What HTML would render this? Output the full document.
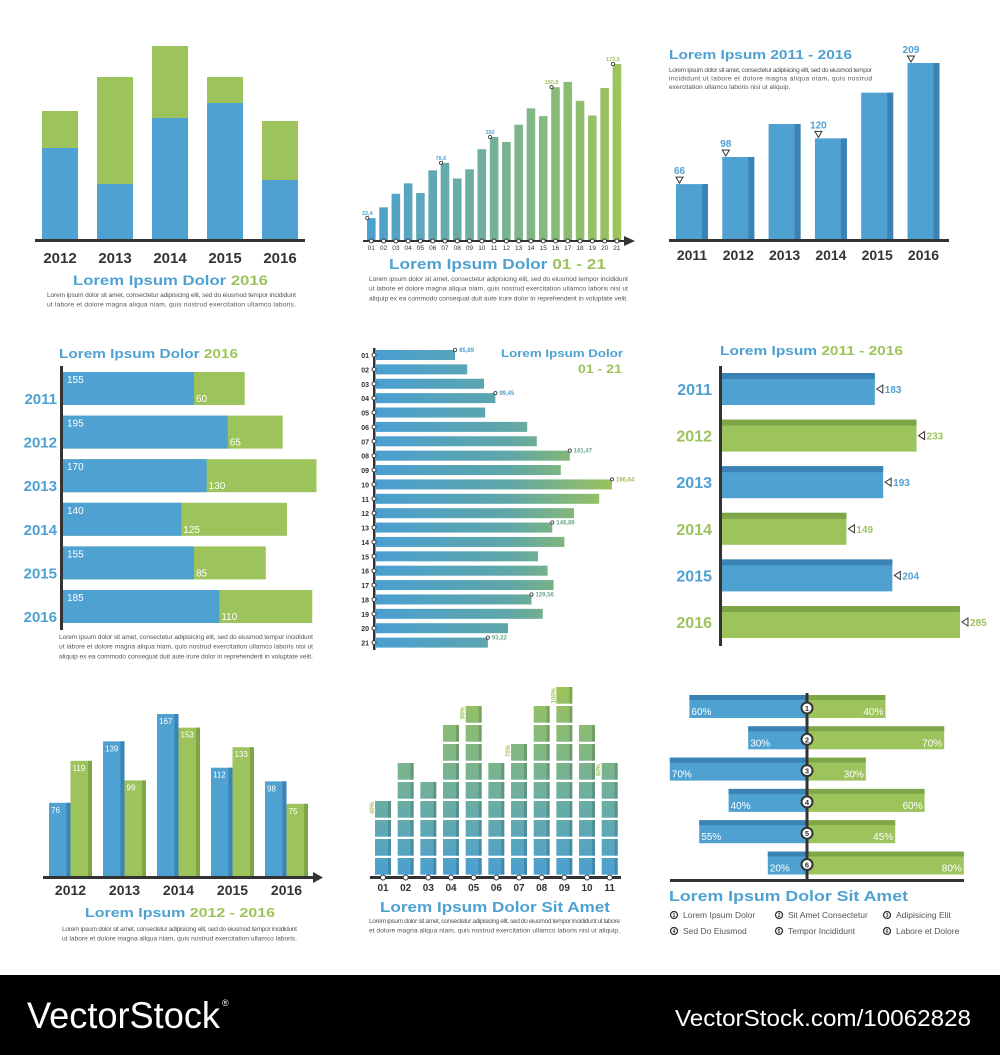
<!DOCTYPE html>
<html><head><meta charset="utf-8"><style>
html,body{margin:0;padding:0;background:#fff;}
svg{display:block;font-family:"Liberation Sans",sans-serif;}
</style></head><body>
<svg id="s" width="1000" height="1055" viewBox="0 0 1000 1055" xmlns="http://www.w3.org/2000/svg">
<defs>
<linearGradient id="g2" gradientUnits="userSpaceOnUse" x1="367" y1="0" x2="621" y2="0"><stop offset="0" stop-color="#4b9fd3"/><stop offset="1" stop-color="#9dc45a"/></linearGradient>
<linearGradient id="g5" gradientUnits="userSpaceOnUse" x1="376" y1="0" x2="615" y2="0"><stop offset="0" stop-color="#4a9fd2"/><stop offset="0.55" stop-color="#5ea6a8"/><stop offset="1" stop-color="#9cc35a"/></linearGradient>
<linearGradient id="g8" gradientUnits="userSpaceOnUse" x1="0" y1="877" x2="0" y2="688"><stop offset="0" stop-color="#4a9fd2"/><stop offset="1" stop-color="#9cc35a"/></linearGradient>
</defs>
</svg>
<script>
// ---- data ----
const p1Years=['2012','2013','2014','2015','2016'];
const p1Blue=[92,56,122,137,60];
const p1Green=[37,107,72,26,59];
const p2Cats=['01','02','03','04','05','06','07','08','09','10','11','12','13','14','15','16','17','18','19','20','21'];
const p2Vals=[22.4,33,46.3,56.5,47,69.3,76.6,61.3,70.3,90,102,97.1,114,130,122.4,150.8,156,137.4,123,150,173.5];
const p2Labels=['22,4','','','','','','76,6','','','','102','','','','','150,8','','','','','173,5'];
const p3Years=['2011','2012','2013','2014','2015','2016'];
const p3Vals=[66,98,137,120,174,209];
const p3Labels=['66','98','','120','','209'];
const p4Years=['2011','2012','2013','2014','2015','2016'];
const p4Blue=[155,195,170,140,155,185];
const p4Green=[60,65,130,125,85,110];
const p5Cats=['01','02','03','04','05','06','07','08','09','10','11','12','13','14','15','16','17','18','19','20','21'];
const p5Vals=[65.89,76,90,99.45,91,126,134,161.47,154,196.64,186,165,146.89,157,135,143,148,129.56,139,110,93.22];
const p5Labels=['65,89','','','99,45','','','','161,47','','196,64','','','146,89','','','','','129,56','','','93,22'];
const p6Years=['2011','2012','2013','2014','2015','2016'];
const p6Vals=[183,233,193,149,204,285];
const p7Years=['2012','2013','2014','2015','2016'];
const p7Blue=[76,139,167,112,98];
const p7Green=[119,99,153,133,75];
const p8Cats=['01','02','03','04','05','06','07','08','09','10','11'];
const p8Tiles=[4,6,5,8,9,6,7,9,10,8,6];
const p8Labels=['40%','','','','90%','','70%','','100%','','60%'];
const p9Left=[60,30,70,40,55,20];
const p9Right=[40,70,30,60,45,80];
const p9Legend=['Lorem Ipsum Dolor','Sit Amet Consectetur','Adipisicing Elit','Sed Do Eiusmod','Tempor Incididunt','Labore et Dolore'];

const NS='http://www.w3.org/2000/svg';
const svg=document.getElementById('s');
const BLUE='#4ea1d1',GREEN='#9dc35c',DBLUE='#3b83b4',DGREEN='#7ea648',DARK='#333';
function mk(tag,a,p){const e=document.createElementNS(NS,tag);for(const k in a)e.setAttribute(k,a[k]);(p||svg).appendChild(e);return e;}
function grp(name){const g=mk('g',{});return g;}
function tx(p,x,y,s,size,fill,weight,anchor,extra){const a={x:x,y:y,'font-size':size,fill:fill,'font-weight':weight||'normal','text-anchor':anchor||'start'};if(extra)for(const k in extra)a[k]=extra[k];const t=mk('text',a,p);t.textContent=s;return t;}
function para(p,x,y,w,lines,lh,lastFree){lines.forEach((l,i)=>{const ex={};if(!(lastFree&&i==lines.length-1)){ex.textLength=w;ex.lengthAdjust='spacing';}const t=tx(p,x,y+i*lh,l,6.6,'#555','normal','start',ex);});}
function title2(p,x,y,a,b,size,len){const t=mk('text',{x:x,y:y,'font-size':size,'font-weight':'bold',textLength:len,lengthAdjust:'spacingAndGlyphs'},p);const s1=mk('tspan',{fill:BLUE},t);s1.textContent=a;const s2=mk('tspan',{fill:GREEN},t);s2.textContent=b;return t;}

// ---- panel 1 ----
(function(){const g=grp('stacked-column-chart');const base=240,x0=42,step=55,w=36,k=1;
p1Years.forEach((yr,i)=>{const x=x0+i*step;const hb=p1Blue[i]*k,hg=p1Green[i]*k;
let r=mk('rect',{x:x,y:base-hb-hg,width:w,height:hg,fill:GREEN},g);
r=mk('rect',{x:x,y:base-hb,width:w,height:hb,fill:BLUE},g);
const t=tx(g,x+w/2,263,yr,15,DARK,'bold','middle');});
const ax=mk('rect',{x:35,y:239,width:270,height:3,fill:DARK},g);
title2(g,73,285,'Lorem Ipsum Dolor','  2016',14,195);
para(g,47,297,249,['Lorem ipsum dolor sit amet, consectetur adipisicing elit, sed do eiusmod tempor incididunt','ut labore et dolore magna aliqua niam, quis nostrud exercitation ullamco laboris.'],9.5);})();

// ---- panel 2 ----
(function(){const g=grp('gradient-column-chart');const base=241,x0=367,step=12.28,w=8.6,k=177/173.5;
p2Cats.forEach((c,i)=>{const x=x0+i*step,h=p2Vals[i]*k;
const r=mk('rect',{x:x,y:base-h,width:w,height:h,fill:'url(#g2)'},g);
const t=tx(g,x+w/2,250,c,6.5,DARK,'normal','middle');
if(p2Labels[i]){const m=mk('circle',{cx:x+w/2-4,cy:base-h,r:1.6,fill:'#fff',stroke:DARK,'stroke-width':0.8},g);
const l=tx(g,x+w/2-4,base-h-3,p2Labels[i],5.5,i<12?BLUE:GREEN,'bold','middle');}});
const ax=mk('rect',{x:363,y:240,width:262,height:2,fill:DARK},g);
const ar=mk('polygon',{points:'624,236 635,241 624,246',fill:DARK},g);
p2Cats.forEach((c,i)=>{const m=mk('circle',{cx:x0+i*step+w/2,cy:241,r:2,fill:'#fff',stroke:DARK,'stroke-width':1},g);});
title2(g,389,269,'Lorem Ipsum Dolor','  01 - 21',15,217);
para(g,369,281,259,['Lorem ipsum dolor sit amet, consectetur adipisicing elit, sed do eiusmod tempor incididunt','ut labore et dolore magna aliqua niam, quis nostrud exercitation ullamco laboris nisi ut','aliquip ex ea commodo consequat duit aute irure dolor in reprehenderit in voluptate velit.'],9.7);})();

// ---- panel 3 ----
(function(){const g=grp('3d-column-chart');const base=240,x0=676,step=46.3,w=32,k=177/209;
title2(g,669,59,'Lorem Ipsum 2011 - 2016','',13,183);
para(g,669,72,203,['Lorem ipsum dolor sit amet, consectetur adipisicing elit, sed do eiusmod tempor','incididunt ut labore et dolore magna aliqua niam, quis nostrud','exercitation ullamco laboris nisi ut aliquip.'],8.5,true);
p3Years.forEach((yr,i)=>{const x=x0+i*step,h=p3Vals[i]*k;
let r=mk('rect',{x:x,y:base-h,width:w,height:h,fill:BLUE},g);
r=mk('rect',{x:x+w-6,y:base-h,width:6,height:h,fill:DBLUE},g);
const t=tx(g,x+w/2,260,yr,14,DARK,'bold','middle');
if(p3Labels[i]){const m=mk('polygon',{points:(x)+','+(base-h-7)+' '+(x+7)+','+(base-h-7)+' '+(x+3.5)+','+(base-h-1),fill:'#fff',stroke:DARK,'stroke-width':1},g);
const l=tx(g,x+3.5,base-h-10,p3Labels[i],10,BLUE,'bold','middle');}});
const ax=mk('rect',{x:669,y:239,width:280,height:3,fill:DARK},g);})();

// ---- panel 4 ----
(function(){const g=grp('stacked-bar-chart');const x0=63,y0=372,step=43.6,h=33,k=0.845;
title2(g,59,358,'Lorem Ipsum Dolor','  2016',13,179);
p4Years.forEach((yr,i)=>{const y=y0+i*step,wb=p4Blue[i]*k,wg=p4Green[i]*k;
let r=mk('rect',{x:x0,y:y,width:wb+wg,height:h,fill:GREEN},g);
r=mk('rect',{x:x0,y:y,width:wb,height:h,fill:BLUE},g);
let t=tx(g,x0+4,y+11,String(p4Blue[i]),10,'#fff');
t=tx(g,x0+wb+2,y+30,String(p4Green[i]),10,'#fff');
t=tx(g,57,y+32,yr,15,BLUE,'bold','end');});
const ax=mk('rect',{x:60,y:366,width:3,height:264,fill:DARK},g);
para(g,59,639,254,['Lorem ipsum dolor sit amet, consectetur adipisicing elit, sed do eiusmod tempor incididunt','ut labore et dolore magna aliqua niam, quis nostrud exercitation ullamco laboris nisi ut','aliquip ex ea commodo consequat duit aute irure dolor in reprehenderit in voluptate velit.'],9.7);})();

// ---- panel 5 ----
(function(){const g=grp('gradient-bar-chart');const x0=376,y0=350,step=14.38,h=10,k=1.2;
p5Cats.forEach((c,i)=>{const y=y0+i*step,w=p5Vals[i]*k;
const r=mk('rect',{x:x0,y:y,width:w,height:h,fill:'url(#g5)'},g);
const t=tx(g,369,y+8,c,7,DARK,'bold','end');
if(p5Labels[i]){const m=mk('circle',{cx:x0+w,cy:y,r:1.6,fill:'#fff',stroke:DARK,'stroke-width':0.8},g);
const l=tx(g,x0+w+4,y+2,p5Labels[i],6,i<5?BLUE:(i==9?GREEN:'#6aaa8a'),'bold');}});
const ax=mk('rect',{x:373,y:348,width:2.5,height:302,fill:DARK},g);
p5Cats.forEach((c,i)=>{const m=mk('circle',{cx:374,cy:y0+i*step+h/2,r:2,fill:'#fff',stroke:DARK,'stroke-width':1},g);});
let t=tx(g,623,357,'Lorem Ipsum Dolor',11,BLUE,'bold','end',{textLength:122,lengthAdjust:'spacingAndGlyphs'});
t=tx(g,622,373,'01 - 21',12,GREEN,'bold','end',{textLength:44,lengthAdjust:'spacingAndGlyphs'});})();

// ---- panel 6 ----
(function(){const g=grp('horizontal-bar-chart');const x0=722,y0=373,step=46.6,h=32,k=0.835;
title2(g,720,355,'Lorem Ipsum','  2011 - 2016',13,183);
p6Years.forEach((yr,i)=>{const y=y0+i*step,w=p6Vals[i]*k,c=i%2?GREEN:BLUE,d=i%2?DGREEN:DBLUE;
let r=mk('rect',{x:x0,y:y,width:w,height:h,fill:c},g);
r=mk('rect',{x:x0,y:y,width:w,height:6,fill:d},g);
const m=mk('polygon',{points:(x0+w+8)+','+(y+h/2-4)+' '+(x0+w+8)+','+(y+h/2+4)+' '+(x0+w+2)+','+(y+h/2),fill:'#fff',stroke:DARK,'stroke-width':1},g);
let t=tx(g,x0+w+10,y+h/2+4,String(p6Vals[i]),10,c,'bold');
t=tx(g,712,y+h/2+6,yr,16,c,'bold','end');});
const ax=mk('rect',{x:719,y:366,width:3,height:280,fill:DARK},g);})();

// ---- panel 7 ----
(function(){const g=grp('grouped-column-chart');const base=877,x0=49,step=54,w=21.5,k=0.976;
p7Years.forEach((yr,i)=>{const x=x0+i*step;[[p7Blue[i],BLUE,DBLUE,'blue'],[p7Green[i],GREEN,DGREEN,'green']].forEach((s,j)=>{const xx=x+j*w,h=s[0]*k;
let r=mk('rect',{x:xx,y:base-h,width:w,height:h,fill:s[1]},g);
r=mk('rect',{x:xx+w-4,y:base-h,width:4,height:h,fill:s[2]},g);
const t=tx(g,xx+2,base-h+10,String(s[0]),8,'#fff');});
const t=tx(g,x+w,895,yr,14,DARK,'bold','middle');});
const ax=mk('rect',{x:43,y:876,width:272,height:3,fill:DARK},g);
const ar=mk('polygon',{points:'313,872 323,877.5 313,883',fill:DARK},g);
title2(g,85,917,'Lorem Ipsum','  2012 - 2016',13,190);
para(g,62,931,235,['Lorem ipsum dolor sit amet, consectetur adipisicing elit, sed do eiusmod tempor incididunt','ut labore et dolore magna aliqua niam, quis nostrud exercitation ullamco laboris.'],9.7);})();

// ---- panel 8 ----
(function(){const g=grp('tile-column-chart');const base=876,x0=375,step=22.67,w=16,th=16.7,ts=19;
p8Cats.forEach((c,i)=>{const x=x0+i*step;for(let j=0;j<p8Tiles[i];j++){const y=base-(j+1)*ts+1;
let r=mk('rect',{x:x,y:y,width:w,height:th,fill:'url(#g8)'},g);
r=mk('rect',{x:x+w-3,y:y,width:3,height:th,fill:'#000','fill-opacity':0.15},g);}
if(p8Labels[i]){const yt=base-p8Tiles[i]*ts+2;const l=tx(g,0,0,p8Labels[i],6,GREEN,'bold','end',{transform:'translate('+(x-1)+','+yt+') rotate(-90)'});}
const t=tx(g,x+w/2,891,c,10,DARK,'bold','middle');});
const ax=mk('rect',{x:370,y:876,width:251,height:3,fill:DARK},g);
p8Cats.forEach((c,i)=>{const m=mk('circle',{cx:x0+i*step+w/2,cy:877.5,r:2.5,fill:'#fff',stroke:DARK,'stroke-width':1},g);});
const t=tx(g,380,912,'Lorem Ipsum Dolor Sit Amet',15,BLUE,'bold','start',{textLength:230,lengthAdjust:'spacingAndGlyphs'});
para(g,369,923,251,['Lorem ipsum dolor sit amet, consectetur adipisicing elit, sed do eiusmod tempor incididunt ut labore','et dolore magna aliqua niam, quis nostrud exercitation ullamco laboris nisi ut aliquip.'],9.5);})();

// ---- panel 9 ----
(function(){const g=grp('diverging-bar-chart');const cx=807,y0=695,step=31.3,h=23,k=1.96;
p9Left.forEach((v,i)=>{const y=y0+i*step,wl=v*k,wr=p9Right[i]*k;
let r=mk('rect',{x:cx-wl,y:y,width:wl,height:h,fill:BLUE},g);
r=mk('rect',{x:cx-wl,y:y,width:wl,height:5,fill:DBLUE},g);
r=mk('rect',{x:cx,y:y,width:wr,height:h,fill:GREEN},g);
r=mk('rect',{x:cx,y:y,width:wr,height:5,fill:DGREEN},g);
let t=tx(g,cx-wl+2,y+20,v+'%',10,'#fff');
t=tx(g,cx+wr-2,y+20,p9Right[i]+'%',10,'#fff','normal','end');});
const ax=mk('rect',{x:cx-1.5,y:693,width:3,height:188,fill:DARK},g);
const bx=mk('rect',{x:670,y:879,width:294,height:3,fill:DARK},g);
p9Left.forEach((v,i)=>{const y=y0+i*step+13;const m=mk('circle',{cx:cx,cy:y,r:5.5,fill:'#fff',stroke:DARK,'stroke-width':2},g);
const t=tx(g,cx,y+3,String(i+1),7.5,DARK,'bold','middle');});
const t=tx(g,669,901,'Lorem Ipsum Dolor Sit Amet',15,BLUE,'bold','start',{textLength:239,lengthAdjust:'spacingAndGlyphs'});
const lx=[674,779,887];p9Legend.forEach((s,i)=>{const x=lx[i%3],y=i<3?915:931;
const m=mk('circle',{cx:x,cy:y,r:3.5,fill:'#fff',stroke:DARK,'stroke-width':1.3},g);
let n=tx(g,x,y+2,String(i+1),5,DARK,'bold','middle');
n=tx(g,x+9,y+3,s,8.5,'#555');});})();

// ---- footer ----
(function(){const g=grp('footer-bar');const r=mk('rect',{x:0,y:975,width:1000,height:80,fill:'#000'},g);
let t=tx(g,27,1028,'VectorStock',37,'#fff','normal','start',{textLength:193,lengthAdjust:'spacingAndGlyphs'});
t=tx(g,222,1006,'®',9,'#fff');
t=tx(g,971,1026,'VectorStock.com/10062828',23,'#fff','normal','end',{textLength:296,lengthAdjust:'spacingAndGlyphs'});})();
</script>
</body></html>
